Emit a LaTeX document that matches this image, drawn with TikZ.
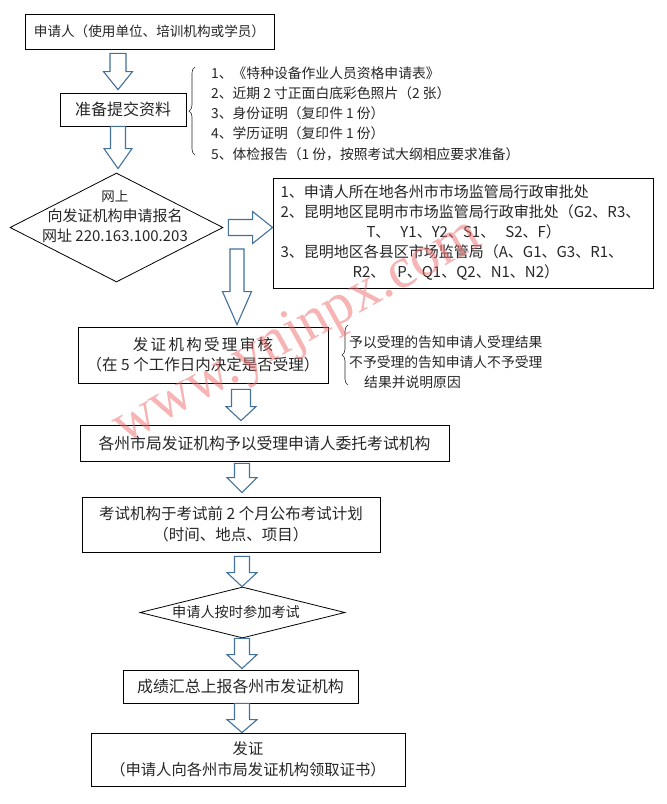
\documentclass[tikz,border=0pt]{standalone}
\usepackage{fontspec}
\setmainfont{Noto Sans CJK SC}
\newfontfamily\markfont{Liberation Serif}
\usepackage{xcolor}
\usetikzlibrary{shapes.geometric, calc, decorations.pathreplacing}
\definecolor{arrowblue}{HTML}{41719C}
\definecolor{inkgray}{HTML}{262626}
\definecolor{markred}{HTML}{F06A6A}

\tikzset{
  shafthalf/.store in=\shafthalf, headhalf/.store in=\headhalf, headlen/.store in=\headlen,
  shafthalf=7.5pt, headhalf=14.5pt, headlen=15pt
}

\begin{document}
\begin{tikzpicture}[
  x=1pt, y=-1pt,
  flowbox/.style={rectangle, draw=black, line width=0.8pt, inner sep=0pt, align=center, text=inkgray},
  decision/.style={diamond, draw=black, line width=0.8pt, inner sep=0pt},
  note/.style={anchor=west, align=left, inner sep=0pt, text=inkgray, font=\fontsize{13.8}{20.2}\selectfont},
  brace/.style={decorate, decoration={brace, amplitude=6pt}, draw=inkgray, line width=0.6pt},
  downarrow/.style={draw=arrowblue, line width=1.1pt, fill=white, line join=miter,
    to path={let \p1=(\tikztostart), \p2=(\tikztotarget) in
      (\x1-\shafthalf,\y1) -- (\x1-\shafthalf,\y2+\headlen) -- (\x1-\headhalf,\y2+\headlen)
      -- (\x1,\y2) -- (\x1+\headhalf,\y2+\headlen) -- (\x1+\shafthalf,\y2+\headlen)
      -- (\x1+\shafthalf,\y1) -- cycle}},
  rightarrow/.style={draw=arrowblue, line width=1.1pt, fill=white, line join=miter,
    to path={let \p1=(\tikztostart), \p2=(\tikztotarget) in
      (\x1,\y1+\shafthalf) -- (\x2-\headlen,\y1+\shafthalf) -- (\x2-\headlen,\y1+\headhalf)
      -- (\x2,\y1) -- (\x2-\headlen,\y1-\headhalf) -- (\x2-\headlen,\y1-\shafthalf)
      -- (\x1,\y1-\shafthalf) -- cycle}}
]
\useasboundingbox (0,0) rectangle (667,804);
\fill[white] (0,0) rectangle (667,804);

\coordinate (colA) at (118,0);
\coordinate (colB) at (242,0);
\coordinate (bigtop) at (237,249);

\node[flowbox, minimum width=249pt, minimum height=35pt, font=\fontsize{13.6}{16}\selectfont] (apply) at (149.5,31.5) {申请人（使用单位、培训机构或学员）};
\node[flowbox, minimum width=126pt, minimum height=33pt, font=\fontsize{16}{18}\selectfont] (prepare) at (123,109.5) {准备提交资料};

\draw[brace] (195,155) -- (195,67);
\node[note] (materials) at (211,113.5) {1、《特种设备作业人员资格申请表》\\2、近期 2 寸正面白底彩色照片（2 张）\\3、身份证明（复印件 1 份）\\4、学历证明（复印件 1 份）\\5、体检报告（1 份，按照考试大纲相应要求准备）};

\node[decision, minimum width=213pt, minimum height=109pt] (online) at (116.5,227.5) {};
\node[align=center, inner sep=0pt, text=inkgray, font=\fontsize{15}{20}\selectfont] (onlinetext) at (115,217) {{\fontsize{13.5}{20}\selectfont 网上}\\向发证机构申请报名\\网址 220.163.100.203};

\node[flowbox, minimum width=380pt, minimum height=110pt, text width=365pt, align=left, font=\fontsize{15}{20}\selectfont] (cityoffice) at (463,233) {1、申请人所在地各州市市场监管局行政审批处\\2、昆明地区昆明市市场监管局行政审批处（G2、R3、\\\hspace*{86pt}T、\ \ Y1、Y2、S1、\ \ S2、F）\\3、昆明地区各县区市场监管局（A、G1、G3、R1、\\\hspace*{72pt}R2、\hspace{12pt}P、Q1、Q2、N1、N2）};

\node[flowbox, minimum width=250pt, minimum height=56pt, font=\fontsize{15.5}{20}\selectfont] (review) at (203,355) {{\addfontfeature{LetterSpace=15}发证机构受理审核}\\（在 5 个工作日内决定是否受理）};

\draw[brace] (348,385) -- (348,325);
\node[note] (results) at (349,362.5) {予以受理的告知申请人受理结果\\不予受理的告知申请人不予受理\\\hspace*{15pt}结果并说明原因};

\node[flowbox, minimum width=369pt, minimum height=36pt, font=\fontsize{15.8}{18}\selectfont] (entrust) at (264.5,443) {各州市局发证机构予以受理申请人委托考试机构};
\node[flowbox, minimum width=298pt, minimum height=55pt, font=\fontsize{15.5}{21}\selectfont] (plan) at (231,524.5) {考试机构于考试前 2 个月公布考试计划\\（时间、地点、项目）};
\node[decision, minimum width=205pt, minimum height=51pt] (exam) at (242.5,612.5) {};
\node[inner sep=0pt, text=inkgray, font=\fontsize{14.2}{16}\selectfont] (examtext) at (236,612) {申请人按时参加考试};
\node[flowbox, minimum width=235pt, minimum height=33pt, font=\fontsize{15.9}{18}\selectfont] (score) at (240.5,686.5) {成绩汇总上报各州市发证机构};
\node[flowbox, minimum width=314pt, minimum height=53pt, font=\fontsize{15.3}{21}\selectfont] (issue) at (248,759.5) {发证\\（申请人向各州市局发证机构领取证书）};

% hollow arrows
\draw[downarrow, shafthalf=8pt, headlen=18pt] ($(apply.south -| colA)+(0,4)$) to ($(prepare.north -| colA)+(0,-3)$);
\draw[downarrow, shafthalf=7.5pt, headhalf=14pt, headlen=20pt] (prepare.south -| colA) to ($(online.north -| colA)+(0,-4)$);
\draw[rightarrow, shafthalf=8pt, headhalf=16pt, headlen=20pt] ($(online.east)+(5,0)$) to (cityoffice.west);
\draw[downarrow, shafthalf=7pt, headhalf=14.5pt, headlen=33pt] (bigtop) to ($(review.north)+(34,-2)$);
\draw[downarrow, shafthalf=9.5pt, headhalf=15pt, headlen=14pt] ($(review.south -| colB)+(-1,6)$) to ($(entrust.north -| colB)+(0,-4)$);
\draw[downarrow, headhalf=15pt] ($(entrust.south -| colB)+(0,2)$) to ($(plan.north -| colB)+(0,-4)$);
\draw[downarrow, headhalf=15pt, headlen=14pt] ($(plan.south -| colB)+(0,4)$) to (exam.north -| colB);
\draw[downarrow, headhalf=15pt, headlen=14pt] (exam.south -| colB) to ($(score.north -| colB)+(0,-1)$);
\draw[downarrow, headhalf=15pt, headlen=13pt] (score.south -| colB) to (issue.north -| colB);

\node[rotate=29, inner sep=0pt, text=markred, opacity=0.5, font=\markfont\fontsize{58}{58}\selectfont] (watermark) at (298,333) {www.ynjnpx.com};
\end{tikzpicture}
\end{document}
